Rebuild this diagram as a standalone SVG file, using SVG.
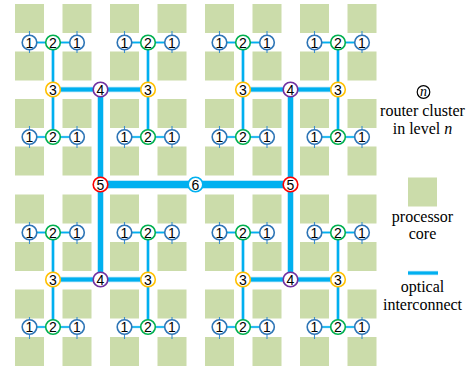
<svg xmlns="http://www.w3.org/2000/svg" width="471" height="366" viewBox="0 0 471 366">
<style>
.core{fill:#CBDCAA}
.o{fill:none;stroke:#A6DEF7;stroke-linecap:butt}
.i{fill:none;stroke:#00B0F0;stroke-linecap:butt}
.tk{fill:none;stroke:#3C8FD0;stroke-width:1.1}
circle.n{fill:#fff;stroke-width:1.6}
.k1{stroke:#2E75B6}.k2{stroke:#00B050}.k3{stroke:#FFC000}.k4{stroke:#7030A0}.k5{stroke:#FF0000}.k6{stroke:#00B0F0}
.t{font-family:"Liberation Sans",Arial,sans-serif;font-size:14px;text-anchor:middle;fill:#000}
.lg{font-family:"Liberation Serif","Times New Roman",serif;font-size:16px;text-anchor:middle;fill:#000}
</style>
<rect width="471" height="366" fill="#fff"/>
<g id="cores" class="core">
<rect x="15" y="4" width="29" height="29"/><rect x="62.5" y="4" width="29" height="29"/><rect x="110" y="4" width="29" height="29"/><rect x="157.5" y="4" width="29" height="29"/>
<rect x="205" y="4" width="29" height="29"/><rect x="252.5" y="4" width="29" height="29"/><rect x="300" y="4" width="29" height="29"/><rect x="347.5" y="4" width="29" height="29"/>
<rect x="15" y="51.5" width="29" height="29"/><rect x="62.5" y="51.5" width="29" height="29"/><rect x="110" y="51.5" width="29" height="29"/><rect x="157.5" y="51.5" width="29" height="29"/>
<rect x="205" y="51.5" width="29" height="29"/><rect x="252.5" y="51.5" width="29" height="29"/><rect x="300" y="51.5" width="29" height="29"/><rect x="347.5" y="51.5" width="29" height="29"/>
<rect x="15" y="99" width="29" height="29"/><rect x="62.5" y="99" width="29" height="29"/><rect x="110" y="99" width="29" height="29"/><rect x="157.5" y="99" width="29" height="29"/>
<rect x="205" y="99" width="29" height="29"/><rect x="252.5" y="99" width="29" height="29"/><rect x="300" y="99" width="29" height="29"/><rect x="347.5" y="99" width="29" height="29"/>
<rect x="15" y="146.5" width="29" height="29"/><rect x="62.5" y="146.5" width="29" height="29"/><rect x="110" y="146.5" width="29" height="29"/><rect x="157.5" y="146.5" width="29" height="29"/>
<rect x="205" y="146.5" width="29" height="29"/><rect x="252.5" y="146.5" width="29" height="29"/><rect x="300" y="146.5" width="29" height="29"/><rect x="347.5" y="146.5" width="29" height="29"/>
<rect x="15" y="194.5" width="29" height="29"/><rect x="62.5" y="194.5" width="29" height="29"/><rect x="110" y="194.5" width="29" height="29"/><rect x="157.5" y="194.5" width="29" height="29"/>
<rect x="205" y="194.5" width="29" height="29"/><rect x="252.5" y="194.5" width="29" height="29"/><rect x="300" y="194.5" width="29" height="29"/><rect x="347.5" y="194.5" width="29" height="29"/>
<rect x="15" y="242" width="29" height="29"/><rect x="62.5" y="242" width="29" height="29"/><rect x="110" y="242" width="29" height="29"/><rect x="157.5" y="242" width="29" height="29"/>
<rect x="205" y="242" width="29" height="29"/><rect x="252.5" y="242" width="29" height="29"/><rect x="300" y="242" width="29" height="29"/><rect x="347.5" y="242" width="29" height="29"/>
<rect x="15" y="289.5" width="29" height="29"/><rect x="62.5" y="289.5" width="29" height="29"/><rect x="110" y="289.5" width="29" height="29"/><rect x="157.5" y="289.5" width="29" height="29"/>
<rect x="205" y="289.5" width="29" height="29"/><rect x="252.5" y="289.5" width="29" height="29"/><rect x="300" y="289.5" width="29" height="29"/><rect x="347.5" y="289.5" width="29" height="29"/>
<rect x="15" y="337" width="29" height="29"/><rect x="62.5" y="337" width="29" height="29"/><rect x="110" y="337" width="29" height="29"/><rect x="157.5" y="337" width="29" height="29"/>
<rect x="205" y="337" width="29" height="29"/><rect x="252.5" y="337" width="29" height="29"/><rect x="300" y="337" width="29" height="29"/><rect x="347.5" y="337" width="29" height="29"/>
</g>
<g id="connectors">
<path class="tk" d="M29.5 31V53M77 31V53M124.5 31V53M172 31V53M219.5 31V53M267 31V53M314.5 31V53M362 31V53
M29.5 126V148M77 126V148M124.5 126V148M172 126V148M219.5 126V148M267 126V148M314.5 126V148M362 126V148
M29.5 222V244M77 222V244M124.5 222V244M172 222V244M219.5 222V244M267 222V244M314.5 222V244M362 222V244
M29.5 317V339M77 317V339M124.5 317V339M172 317V339M219.5 317V339M267 317V339M314.5 317V339M362 317V339"/>
<path class="o" stroke-width="2.6" d="M29.5 42.5H77M124.5 42.5H172M29.5 137H77M124.5 137H172M219.5 42.5H267M314.5 42.5H362M219.5 137H267M314.5 137H362M29.5 232.5H77M124.5 232.5H172M29.5 327H77M124.5 327H172M219.5 232.5H267M314.5 232.5H362M219.5 327H267M314.5 327H362"/>
<path class="i" stroke-width="1.6" d="M29.5 42.5H77M124.5 42.5H172M29.5 137H77M124.5 137H172M219.5 42.5H267M314.5 42.5H362M219.5 137H267M314.5 137H362M29.5 232.5H77M124.5 232.5H172M29.5 327H77M124.5 327H172M219.5 232.5H267M314.5 232.5H362M219.5 327H267M314.5 327H362"/>
<path class="o" stroke-width="3.4" d="M53 42.5V137M148 42.5V137M243 42.5V137M338 42.5V137M53 232.5V327M148 232.5V327M243 232.5V327M338 232.5V327"/>
<path class="i" stroke-width="2.2" d="M53 42.5V137M148 42.5V137M243 42.5V137M338 42.5V137M53 232.5V327M148 232.5V327M243 232.5V327M338 232.5V327"/>
<path class="o" stroke-width="5.4" d="M53 89.5H148M243 89.5H338M53 279.5H148M243 279.5H338"/>
<path class="i" stroke-width="4" d="M53 89.5H148M243 89.5H338M53 279.5H148M243 279.5H338"/>
<path class="o" stroke-width="6.4" d="M100.5 89.5V279.5M290.5 89.5V279.5"/>
<path class="i" stroke-width="5" d="M100.5 89.5V279.5M290.5 89.5V279.5"/>
<path class="o" stroke-width="8.4" d="M100.5 184.5H290.5"/>
<path class="i" stroke-width="7" d="M100.5 184.5H290.5"/>
</g>
<g id="n1-a1"><circle class="n k1" cx="29.5" cy="42.5" r="7.3"/><text class="t" x="29.5" y="47.5">1</text></g>
<g id="n1-a2"><circle class="n k1" cx="77" cy="42.5" r="7.3"/><text class="t" x="77" y="47.5">1</text></g>
<g id="n1-a3"><circle class="n k1" cx="124.5" cy="42.5" r="7.3"/><text class="t" x="124.5" y="47.5">1</text></g>
<g id="n1-a4"><circle class="n k1" cx="172" cy="42.5" r="7.3"/><text class="t" x="172" y="47.5">1</text></g>
<g id="n1-a5"><circle class="n k1" cx="219.5" cy="42.5" r="7.3"/><text class="t" x="219.5" y="47.5">1</text></g>
<g id="n1-a6"><circle class="n k1" cx="267" cy="42.5" r="7.3"/><text class="t" x="267" y="47.5">1</text></g>
<g id="n1-a7"><circle class="n k1" cx="314.5" cy="42.5" r="7.3"/><text class="t" x="314.5" y="47.5">1</text></g>
<g id="n1-a8"><circle class="n k1" cx="362" cy="42.5" r="7.3"/><text class="t" x="362" y="47.5">1</text></g>
<g id="n1-b1"><circle class="n k1" cx="29.5" cy="137" r="7.3"/><text class="t" x="29.5" y="142">1</text></g>
<g id="n1-b2"><circle class="n k1" cx="77" cy="137" r="7.3"/><text class="t" x="77" y="142">1</text></g>
<g id="n1-b3"><circle class="n k1" cx="124.5" cy="137" r="7.3"/><text class="t" x="124.5" y="142">1</text></g>
<g id="n1-b4"><circle class="n k1" cx="172" cy="137" r="7.3"/><text class="t" x="172" y="142">1</text></g>
<g id="n1-b5"><circle class="n k1" cx="219.5" cy="137" r="7.3"/><text class="t" x="219.5" y="142">1</text></g>
<g id="n1-b6"><circle class="n k1" cx="267" cy="137" r="7.3"/><text class="t" x="267" y="142">1</text></g>
<g id="n1-b7"><circle class="n k1" cx="314.5" cy="137" r="7.3"/><text class="t" x="314.5" y="142">1</text></g>
<g id="n1-b8"><circle class="n k1" cx="362" cy="137" r="7.3"/><text class="t" x="362" y="142">1</text></g>
<g id="n1-c1"><circle class="n k1" cx="29.5" cy="232.5" r="7.3"/><text class="t" x="29.5" y="237.5">1</text></g>
<g id="n1-c2"><circle class="n k1" cx="77" cy="232.5" r="7.3"/><text class="t" x="77" y="237.5">1</text></g>
<g id="n1-c3"><circle class="n k1" cx="124.5" cy="232.5" r="7.3"/><text class="t" x="124.5" y="237.5">1</text></g>
<g id="n1-c4"><circle class="n k1" cx="172" cy="232.5" r="7.3"/><text class="t" x="172" y="237.5">1</text></g>
<g id="n1-c5"><circle class="n k1" cx="219.5" cy="232.5" r="7.3"/><text class="t" x="219.5" y="237.5">1</text></g>
<g id="n1-c6"><circle class="n k1" cx="267" cy="232.5" r="7.3"/><text class="t" x="267" y="237.5">1</text></g>
<g id="n1-c7"><circle class="n k1" cx="314.5" cy="232.5" r="7.3"/><text class="t" x="314.5" y="237.5">1</text></g>
<g id="n1-c8"><circle class="n k1" cx="362" cy="232.5" r="7.3"/><text class="t" x="362" y="237.5">1</text></g>
<g id="n1-d1"><circle class="n k1" cx="29.5" cy="327" r="7.3"/><text class="t" x="29.5" y="332">1</text></g>
<g id="n1-d2"><circle class="n k1" cx="77" cy="327" r="7.3"/><text class="t" x="77" y="332">1</text></g>
<g id="n1-d3"><circle class="n k1" cx="124.5" cy="327" r="7.3"/><text class="t" x="124.5" y="332">1</text></g>
<g id="n1-d4"><circle class="n k1" cx="172" cy="327" r="7.3"/><text class="t" x="172" y="332">1</text></g>
<g id="n1-d5"><circle class="n k1" cx="219.5" cy="327" r="7.3"/><text class="t" x="219.5" y="332">1</text></g>
<g id="n1-d6"><circle class="n k1" cx="267" cy="327" r="7.3"/><text class="t" x="267" y="332">1</text></g>
<g id="n1-d7"><circle class="n k1" cx="314.5" cy="327" r="7.3"/><text class="t" x="314.5" y="332">1</text></g>
<g id="n1-d8"><circle class="n k1" cx="362" cy="327" r="7.3"/><text class="t" x="362" y="332">1</text></g>
<g id="n2-a1"><circle class="n k2" cx="53" cy="42.5" r="7.3"/><text class="t" x="53" y="47.5">2</text></g>
<g id="n2-a2"><circle class="n k2" cx="148" cy="42.5" r="7.3"/><text class="t" x="148" y="47.5">2</text></g>
<g id="n2-a3"><circle class="n k2" cx="243" cy="42.5" r="7.3"/><text class="t" x="243" y="47.5">2</text></g>
<g id="n2-a4"><circle class="n k2" cx="338" cy="42.5" r="7.3"/><text class="t" x="338" y="47.5">2</text></g>
<g id="n2-b1"><circle class="n k2" cx="53" cy="137" r="7.3"/><text class="t" x="53" y="142">2</text></g>
<g id="n2-b2"><circle class="n k2" cx="148" cy="137" r="7.3"/><text class="t" x="148" y="142">2</text></g>
<g id="n2-b3"><circle class="n k2" cx="243" cy="137" r="7.3"/><text class="t" x="243" y="142">2</text></g>
<g id="n2-b4"><circle class="n k2" cx="338" cy="137" r="7.3"/><text class="t" x="338" y="142">2</text></g>
<g id="n2-c1"><circle class="n k2" cx="53" cy="232.5" r="7.3"/><text class="t" x="53" y="237.5">2</text></g>
<g id="n2-c2"><circle class="n k2" cx="148" cy="232.5" r="7.3"/><text class="t" x="148" y="237.5">2</text></g>
<g id="n2-c3"><circle class="n k2" cx="243" cy="232.5" r="7.3"/><text class="t" x="243" y="237.5">2</text></g>
<g id="n2-c4"><circle class="n k2" cx="338" cy="232.5" r="7.3"/><text class="t" x="338" y="237.5">2</text></g>
<g id="n2-d1"><circle class="n k2" cx="53" cy="327" r="7.3"/><text class="t" x="53" y="332">2</text></g>
<g id="n2-d2"><circle class="n k2" cx="148" cy="327" r="7.3"/><text class="t" x="148" y="332">2</text></g>
<g id="n2-d3"><circle class="n k2" cx="243" cy="327" r="7.3"/><text class="t" x="243" y="332">2</text></g>
<g id="n2-d4"><circle class="n k2" cx="338" cy="327" r="7.3"/><text class="t" x="338" y="332">2</text></g>
<g id="n3-a1"><circle class="n k3" cx="53" cy="89.5" r="7.3"/><text class="t" x="53" y="94.5">3</text></g>
<g id="n3-a2"><circle class="n k3" cx="148" cy="89.5" r="7.3"/><text class="t" x="148" y="94.5">3</text></g>
<g id="n3-a3"><circle class="n k3" cx="243" cy="89.5" r="7.3"/><text class="t" x="243" y="94.5">3</text></g>
<g id="n3-a4"><circle class="n k3" cx="338" cy="89.5" r="7.3"/><text class="t" x="338" y="94.5">3</text></g>
<g id="n3-b1"><circle class="n k3" cx="53" cy="279.5" r="7.3"/><text class="t" x="53" y="284.5">3</text></g>
<g id="n3-b2"><circle class="n k3" cx="148" cy="279.5" r="7.3"/><text class="t" x="148" y="284.5">3</text></g>
<g id="n3-b3"><circle class="n k3" cx="243" cy="279.5" r="7.3"/><text class="t" x="243" y="284.5">3</text></g>
<g id="n3-b4"><circle class="n k3" cx="338" cy="279.5" r="7.3"/><text class="t" x="338" y="284.5">3</text></g>
<g id="n4-a1"><circle class="n k4" cx="100.5" cy="89.5" r="7.3"/><text class="t" x="100.5" y="94.5">4</text></g>
<g id="n4-a2"><circle class="n k4" cx="290.5" cy="89.5" r="7.3"/><text class="t" x="290.5" y="94.5">4</text></g>
<g id="n4-b1"><circle class="n k4" cx="100.5" cy="279.5" r="7.3"/><text class="t" x="100.5" y="284.5">4</text></g>
<g id="n4-b2"><circle class="n k4" cx="290.5" cy="279.5" r="7.3"/><text class="t" x="290.5" y="284.5">4</text></g>
<g id="n5-1"><circle class="n k5" cx="100.5" cy="184.5" r="7.3"/><text class="t" x="100.5" y="189.5">5</text></g>
<g id="n5-2"><circle class="n k5" cx="290.5" cy="184.5" r="7.3"/><text class="t" x="290.5" y="189.5">5</text></g>
<g id="n6"><circle class="n k6" cx="195.5" cy="184.5" r="7.3"/><text class="t" x="195.5" y="189.5">6</text></g>
<g id="legend">
<circle cx="423.5" cy="92" r="6.3" fill="none" stroke="#000" stroke-width="1.2"/>
<text x="423.5" y="96" font-family="'Liberation Serif','Times New Roman',serif" font-size="14" font-style="italic" text-anchor="middle">n</text>
<text class="lg" x="422.5" y="115.5" font-family="'Liberation Serif','Times New Roman',serif">router cluster</text>
<text class="lg" x="422.5" y="134" font-family="'Liberation Serif','Times New Roman',serif">in level <tspan font-style="italic">n</tspan></text>
<rect class="core" x="408" y="177.5" width="29" height="29"/>
<text class="lg" x="422.5" y="222" font-family="'Liberation Serif','Times New Roman',serif">processor</text>
<text class="lg" x="422.5" y="239" font-family="'Liberation Serif','Times New Roman',serif">core</text>
<path class="o" stroke-width="4.4" stroke-linecap="round" d="M408 273H438"/>
<path class="i" stroke-width="3" stroke-linecap="round" d="M408 273H438"/>
<text class="lg" x="422.5" y="292" font-family="'Liberation Serif','Times New Roman',serif">optical</text>
<text class="lg" x="422.5" y="310" font-family="'Liberation Serif','Times New Roman',serif">interconnect</text>
</g>
</svg>
